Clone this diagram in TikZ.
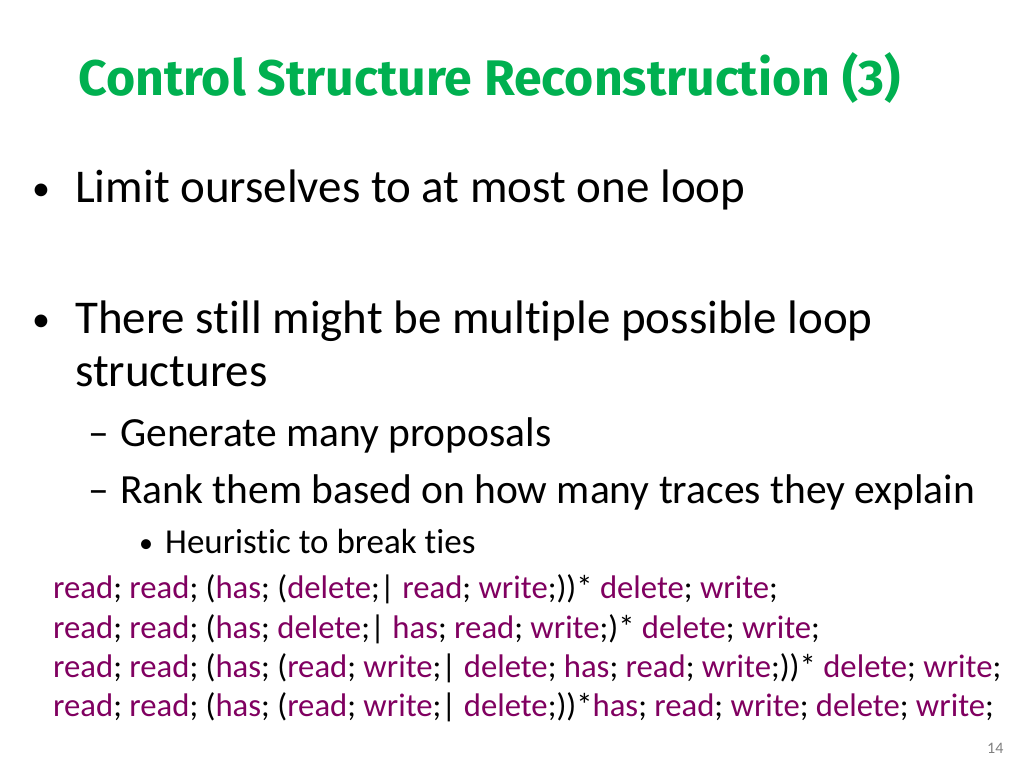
\documentclass[tikz,border=0pt]{standalone}
\usepackage{fontspec}
\setmainfont[Ligatures={NoCommon}]{Carlito}
\newfontfamily\titlefont{Fira Sans}
\definecolor{tgreen}{RGB}{0,176,80}
\definecolor{kwc}{RGB}{128,0,96}
\newcommand{\kw}[1]{\textcolor{kwc}{#1}}
\begin{document}
\begin{tikzpicture}[x=1pt,y=-1pt,
  t/.style={anchor=base west,inner sep=0pt},
  l1/.style={t,font=\fontsize{47}{50}\selectfont},
  l2/.style={t,font=\fontsize{41.5}{45}\selectfont},
  l3/.style={t,font=\fontsize{35}{38}\selectfont},
  cd/.style={t,font=\fontsize{32.7}{36}\selectfont}]
\useasboundingbox (0,0) rectangle (1024,768);
\node[t,font=\titlefont\bfseries\fontsize{50}{55}\selectfont,text=tgreen] (title) at (78,95) {Control Structure Reconstruction (3)};
\node[l1,font=\fontsize{36}{40}\selectfont] (b1) at (32,200) {•};
\node[l1] (t1) at (75,202) {Limit ourselves to at most one loop};
\node[l1,font=\fontsize{36}{40}\selectfont] (b2) at (32,331) {•};
\node[l1] (t2) at (75,333) {There still might be multiple possible loop};
\node[l1] (t2b) at (75,386) {structures};
\node[l2] (d1) at (88,446) {–};
\node[l2] (s1) at (120,446) {Generate many proposals};
\node[l2] (d2) at (88,503) {–};
\node[l2] (s2) at (120,503) {Rank them based on how many traces they explain};
\node[l3,font=\fontsize{28}{30}\selectfont] (b3) at (139,552) {•};
\node[l3] (s3) at (165,553) {Heuristic to break ties};
\node[cd] (c1) at (53,598) {\kw{read}; \kw{read}; (\kw{has}; (\kw{delete};| \kw{read}; \kw{write};))* \kw{delete}; \kw{write};};
\node[cd] (c2) at (53,638) {\kw{read}; \kw{read}; (\kw{has}; \kw{delete};| \kw{has}; \kw{read}; \kw{write};)* \kw{delete}; \kw{write};};
\node[cd] (c3) at (53,677) {\kw{read}; \kw{read}; (\kw{has}; (\kw{read}; \kw{write};| \kw{delete}; \kw{has}; \kw{read}; \kw{write};))* \kw{delete}; \kw{write};};
\node[cd] (c4) at (53,716) {\kw{read}; \kw{read}; (\kw{has}; (\kw{read}; \kw{write};| \kw{delete};))*\kw{has}; \kw{read}; \kw{write}; \kw{delete}; \kw{write};};
\node[t,font=\fontsize{16}{18}\selectfont,text=gray] (pg) at (987,753) {14};
\end{tikzpicture}
\end{document}
